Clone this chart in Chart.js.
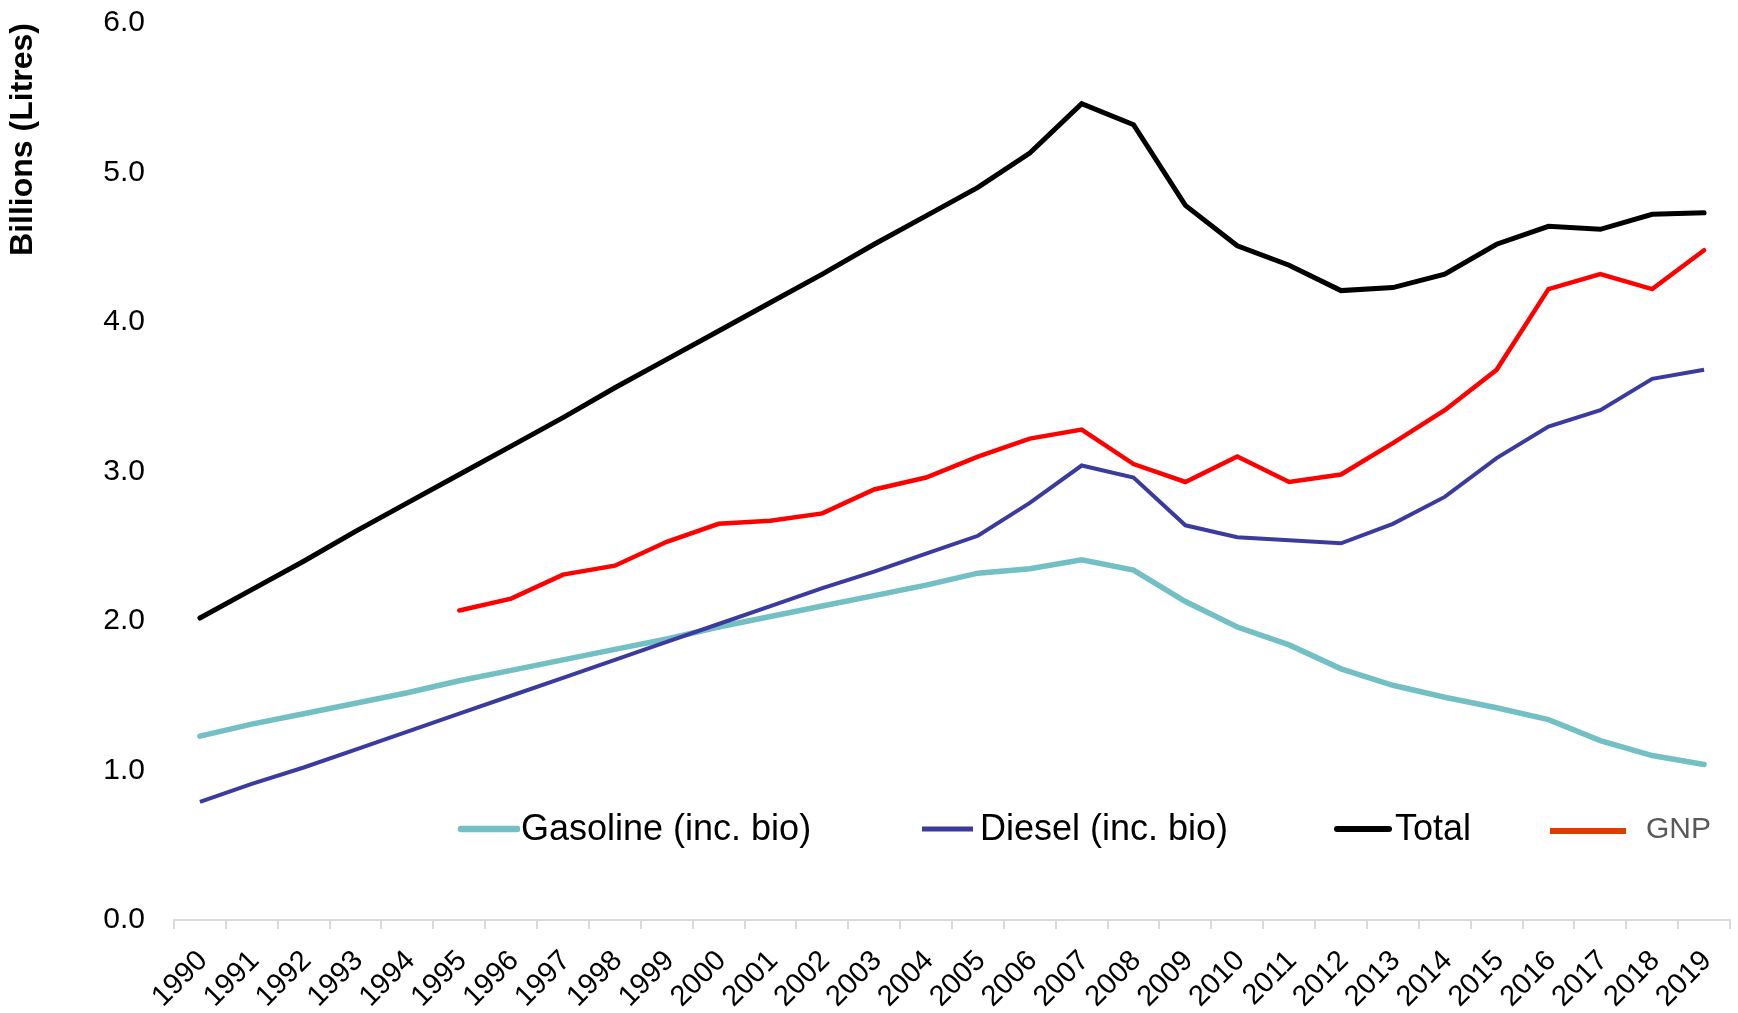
<!DOCTYPE html>
<html>
<head>
<meta charset="utf-8">
<script src="https://cdn.jsdelivr.net/npm/chart.js@4.4.1/dist/chart.umd.min.js"></script>
<style>
  body { margin: 0; background: #fff; }
  canvas { display: block; }
</style>
</head>
<body>
<canvas id="fuel-chart" width="1738" height="1013"></canvas>
<script>
const years = [
  "1990", "1991", "1992", "1993", "1994", "1995", "1996", "1997", "1998", "1999",
  "2000", "2001", "2002", "2003", "2004", "2005", "2006", "2007", "2008", "2009",
  "2010", "2011", "2012", "2013", "2014", "2015", "2016", "2017", "2018", "2019",
];

// billions of litres
const gasoline = [
  1.23, 1.31, 1.38, 1.45, 1.52, 1.60, 1.67, 1.74, 1.81, 1.88,
  1.96, 2.03, 2.10, 2.17, 2.24, 2.32, 2.35, 2.41, 2.34, 2.13,
  1.96, 1.84, 1.68, 1.57, 1.49, 1.42, 1.34, 1.20, 1.10, 1.04,
];
const diesel = [
  0.79, 0.91, 1.02, 1.14, 1.26, 1.38, 1.50, 1.62, 1.74, 1.86,
  1.98, 2.10, 2.22, 2.33, 2.45, 2.57, 2.79, 3.04, 2.96, 2.64,
  2.56, 2.54, 2.52, 2.65, 2.83, 3.09, 3.30, 3.41, 3.62, 3.68,
];
const total = [
  2.02, 2.21, 2.40, 2.60, 2.79, 2.98, 3.17, 3.36, 3.56, 3.75,
  3.94, 4.13, 4.32, 4.52, 4.71, 4.90, 5.13, 5.46, 5.32, 4.78,
  4.51, 4.38, 4.21, 4.23, 4.32, 4.52, 4.64, 4.62, 4.72, 4.73,
];
const gnp = [
  null, null, null, null, null, 2.07, 2.15, 2.31, 2.37, 2.53,
  2.65, 2.67, 2.72, 2.88, 2.96, 3.10, 3.22, 3.28, 3.05, 2.93,
  3.10, 2.93, 2.98, 3.19, 3.41, 3.68, 4.22, 4.32, 4.22, 4.48,
];

const yTicks = [0, 1, 2, 3, 4, 5, 6];

const FONT = "'Liberation Sans', Arial, sans-serif";
Chart.defaults.font.family = FONT;
Chart.defaults.color = "#000";

// legend sits inside the plot, so draw it by hand
const legendItems = [
  { text: "Gasoline (inc. bio)", color: "#72BFC4", x1: 461, x2: 517, y: 829, w: 6.5, cap: "round", tx: 521, ty: 840, size: 36, tc: "#000" },
  { text: "Diesel (inc. bio)", color: "#3B3B9E", x1: 922, x2: 973, y: 829, w: 5, cap: "butt", tx: 980, ty: 840, size: 36, tc: "#000" },
  { text: "Total", color: "#000000", x1: 1337, x2: 1389, y: 829, w: 6, cap: "round", tx: 1395, ty: 840, size: 36, tc: "#000" },
  { text: "GNP", color: "#E03C00", x1: 1550, x2: 1626, y: 831, w: 6, cap: "butt", tx: 1646, ty: 838, size: 30, tc: "#595959" },
];

const insideLegend = {
  id: "insideLegend",
  afterDatasetsDraw(chart) {
    const ctx = chart.ctx;
    ctx.save();
    legendItems.forEach(function (item) {
      ctx.beginPath();
      ctx.strokeStyle = item.color;
      ctx.lineWidth = item.w;
      ctx.lineCap = item.cap;
      ctx.moveTo(item.x1, item.y);
      ctx.lineTo(item.x2, item.y);
      ctx.stroke();
      ctx.fillStyle = item.tc;
      ctx.font = item.size + "px " + FONT;
      ctx.textAlign = "left";
      ctx.textBaseline = "alphabetic";
      ctx.fillText(item.text, item.tx, item.ty);
    });
    ctx.restore();
  },
};

const ctx = document.getElementById("fuel-chart").getContext("2d");
new Chart(ctx, {
  type: "line",
  data: {
    labels: years,
    datasets: [
      { label: "Gasoline (inc. bio)", data: gasoline, borderColor: "#72BFC4", borderWidth: 5.5, borderCapStyle: "round", order: 2 },
      { label: "Diesel (inc. bio)", data: diesel, borderColor: "#3B3B9E", borderWidth: 4, borderCapStyle: "butt", order: 1 },
      { label: "Total", data: total, borderColor: "#000000", borderWidth: 5, borderCapStyle: "round", order: 3 },
      { label: "GNP", data: gnp, borderColor: "#FF0000", borderWidth: 4.5, borderCapStyle: "round", order: 4 },
    ],
  },
  options: {
    responsive: false,
    animation: false,
    spanGaps: false,
    elements: {
      point: { radius: 0, hoverRadius: 0 },
      line: { tension: 0, fill: false },
    },
    layout: { padding: { top: 23, right: 8, left: 0, bottom: 0 } },
    plugins: {
      legend: { display: false },
      tooltip: { enabled: false },
    },
    scales: {
      x: {
        offset: true,
        grid: {
          offset: true,
          drawOnChartArea: false,
          color: "#D9D9D9",
          lineWidth: 2,
          tickLength: 9,
        },
        border: { display: true, color: "#D9D9D9", width: 2 },
        ticks: {
          font: { size: 29 },
          color: "#000",
          minRotation: 45,
          maxRotation: 45,
          autoSkip: false,
          padding: 15,
          labelOffset: 3,
        },
        afterFit(scale) {
          scale.height = 93;
          scale.paddingLeft = 0;
          scale.paddingRight = 0;
        },
      },
      y: {
        min: 0,
        max: 6,
        afterBuildTicks(scale) {
          scale.ticks = yTicks.map(function (v) { return { value: v }; });
        },
        grid: { display: false, drawTicks: false },
        border: { display: false },
        ticks: {
          font: { size: 30 },
          color: "#000",
          padding: 29,
          callback: function (v) { return Number(v).toFixed(1); },
        },
        title: {
          display: true,
          text: "Billions (Litres)",
          align: "end",
          color: "#000",
          font: { size: 32, weight: "bold" },
          padding: { top: 4, bottom: 0 },
        },
        afterFit(scale) {
          scale.width = 174;
          scale.paddingTop = 0;
          scale.paddingBottom = 0;
        },
      },
    },
  },
  plugins: [insideLegend],
});
</script>
</body>
</html>
